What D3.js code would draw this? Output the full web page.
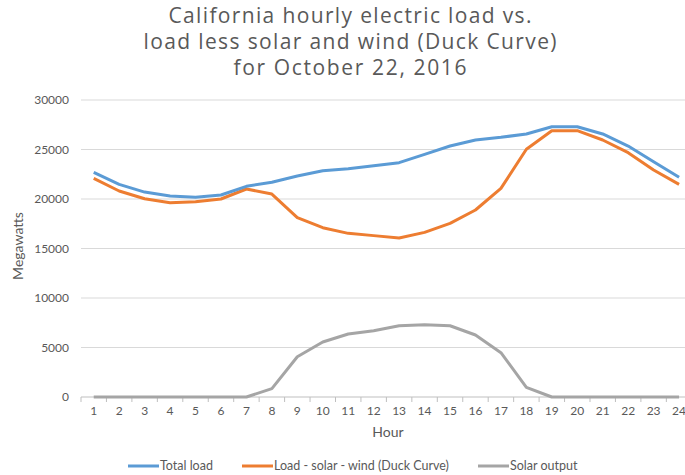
<!DOCTYPE html>
<html>
<head>
<meta charset="utf-8">
<script src="https://cdn.jsdelivr.net/npm/d3@7"></script>
<style>
  body { margin: 0; background: #fff; }
  text { font-family: Lato, "Open Sans", sans-serif; fill: #595959; }
  .title { font-family: "Open Sans", Lato, sans-serif; }
</style>
</head>
<body>
<svg id="duck"></svg>
<script>
//chart data
var hours = [1,2,3,4,5,6,7,8,9,10,11,12,13,14,15,16,17,18,19,20,21,22,23,24];
var totalLoad = [22700,21480,20700,20300,20170,20400,21280,21700,22320,22860,23060,23360,
                 23670,24510,25350,25960,26230,26570,27300,27300,26570,25350,23770,22200];
var duckCurve = [22090,20810,20030,19630,19730,20000,21010,20500,18110,17100,16530,16300,
                 16060,16630,17540,18890,21080,25020,26900,26900,25960,24680,22930,21480];
var solarOutput = [0,0,0,0,0,0,0,840,4070,5560,6360,6700,
                   7200,7300,7200,6260,4480,980,0,0,0,0,0,0];
var yTicks = [0,5000,10000,15000,20000,25000,30000];
var titleLines = ['California hourly electric load vs.',
                  'load less solar and wind (Duck Curve)',
                  'for October 22, 2016'];

var series = [
    {name: 'Total load', values: totalLoad, color: '#5b9bd5'},
    {name: 'Load - solar - wind (Duck Curve)', values: duckCurve, color: '#ed7d31'},
    {name: 'Solar output', values: solarOutput, color: '#a5a5a5'}
];

function duckChart() {
    var svg = d3.select('#duck')
        .attr('width', 685)
        .attr('height', 475);

    //plot extent
    var left = 81, top = 100, bottom = 397, band = 25.45;

    var x = d3.scaleBand()
        .domain(hours)
        .range([left, left + band * hours.length]);

    var y = d3.scaleLinear()
        .domain([0, 30000])
        .range([bottom, top]);

    //title (widths fitted to the original text)
    var titleWidths = [363, 413, 233];
    svg.append('g').selectAll('text')
        .data(titleLines)
        .enter().append('text')
            .attr('class', 'title')
            .attr('x', 350)
            .attr('y', (d, i) => 23 + i * 26)
            .attr('text-anchor', 'middle')
            .attr('textLength', (d, i) => titleWidths[i])
            .attr('lengthAdjust', 'spacing')
            .style('font-size', '21px')
            .text(d => d);

    //gridlines
    svg.append('g')
        .selectAll('line').data(yTicks.filter(d => d > 0))
        .enter().append('line')
            .attr('x1', left)
            .attr('x2', x.range()[1])
            .attr('y1', d => y(d))
            .attr('y2', d => y(d))
            .attr('stroke', '#d9d9d9')
            .attr('stroke-width', 1);

    //y axis labels
    svg.append('g')
        .selectAll('text').data(yTicks)
        .enter().append('text')
            .attr('x', 69)
            .attr('y', d => y(d))
            .attr('dy', '0.35em')
            .attr('text-anchor', 'end')
            .style('font-size', '12px')
            .text(d => d);

    svg.append('text')
        .attr('transform', 'translate(23,246) rotate(-90)')
        .attr('text-anchor', 'middle')
        .style('font-size', '14px')
        .text('Megawatts');

    //x axis, ticks between categories
    var xAxis = svg.append('g')
        .attr('transform', 'translate(0,' + bottom + ')');
    xAxis.append('line')
        .attr('x1', left).attr('x2', x.range()[1])
        .attr('stroke', '#bfbfbf');
    xAxis.selectAll('.tick').data(hours.concat([25]))
        .enter().append('line')
            .attr('x1', d => left + (d - 1) * band)
            .attr('x2', d => left + (d - 1) * band)
            .attr('y2', 5)
            .attr('stroke', '#bfbfbf');
    xAxis.selectAll('text').data(hours)
        .enter().append('text')
            .attr('x', d => x(d) + x.bandwidth() / 2)
            .attr('y', 18)
            .attr('text-anchor', 'middle')
            .style('font-size', '12px')
            .text(d => d);

    svg.append('text')
        .attr('x', 388)
        .attr('y', 437)
        .attr('text-anchor', 'middle')
        .style('font-size', '14px')
        .text('Hour');

    //series lines
    var line = d3.line()
        .x((d, i) => x(hours[i]) + x.bandwidth() / 2)
        .y(d => y(d));

    svg.append('g')
        .selectAll('path').data(series.slice().reverse())
        .enter().append('path')
            .attr('d', d => line(d.values))
            .attr('fill', 'none')
            .attr('stroke', d => d.color)
            .attr('stroke-width', 3)
            .attr('stroke-linejoin', 'round');

    //legend
    var legendX = [128, 242, 478];
    var legend = svg.append('g')
        .selectAll('g').data(series)
        .enter().append('g')
            .attr('transform', (d, i) => 'translate(' + legendX[i] + ',466)');
    legend.append('line')
        .attr('x2', 31)
        .attr('stroke', d => d.color)
        .attr('stroke-width', 3);
    legend.append('text')
        .attr('x', 32)
        .attr('dy', '0.35em')
        .style('font-size', '12.5px')
        .text(d => d.name);
}

duckChart();
</script>
</body>
</html>
